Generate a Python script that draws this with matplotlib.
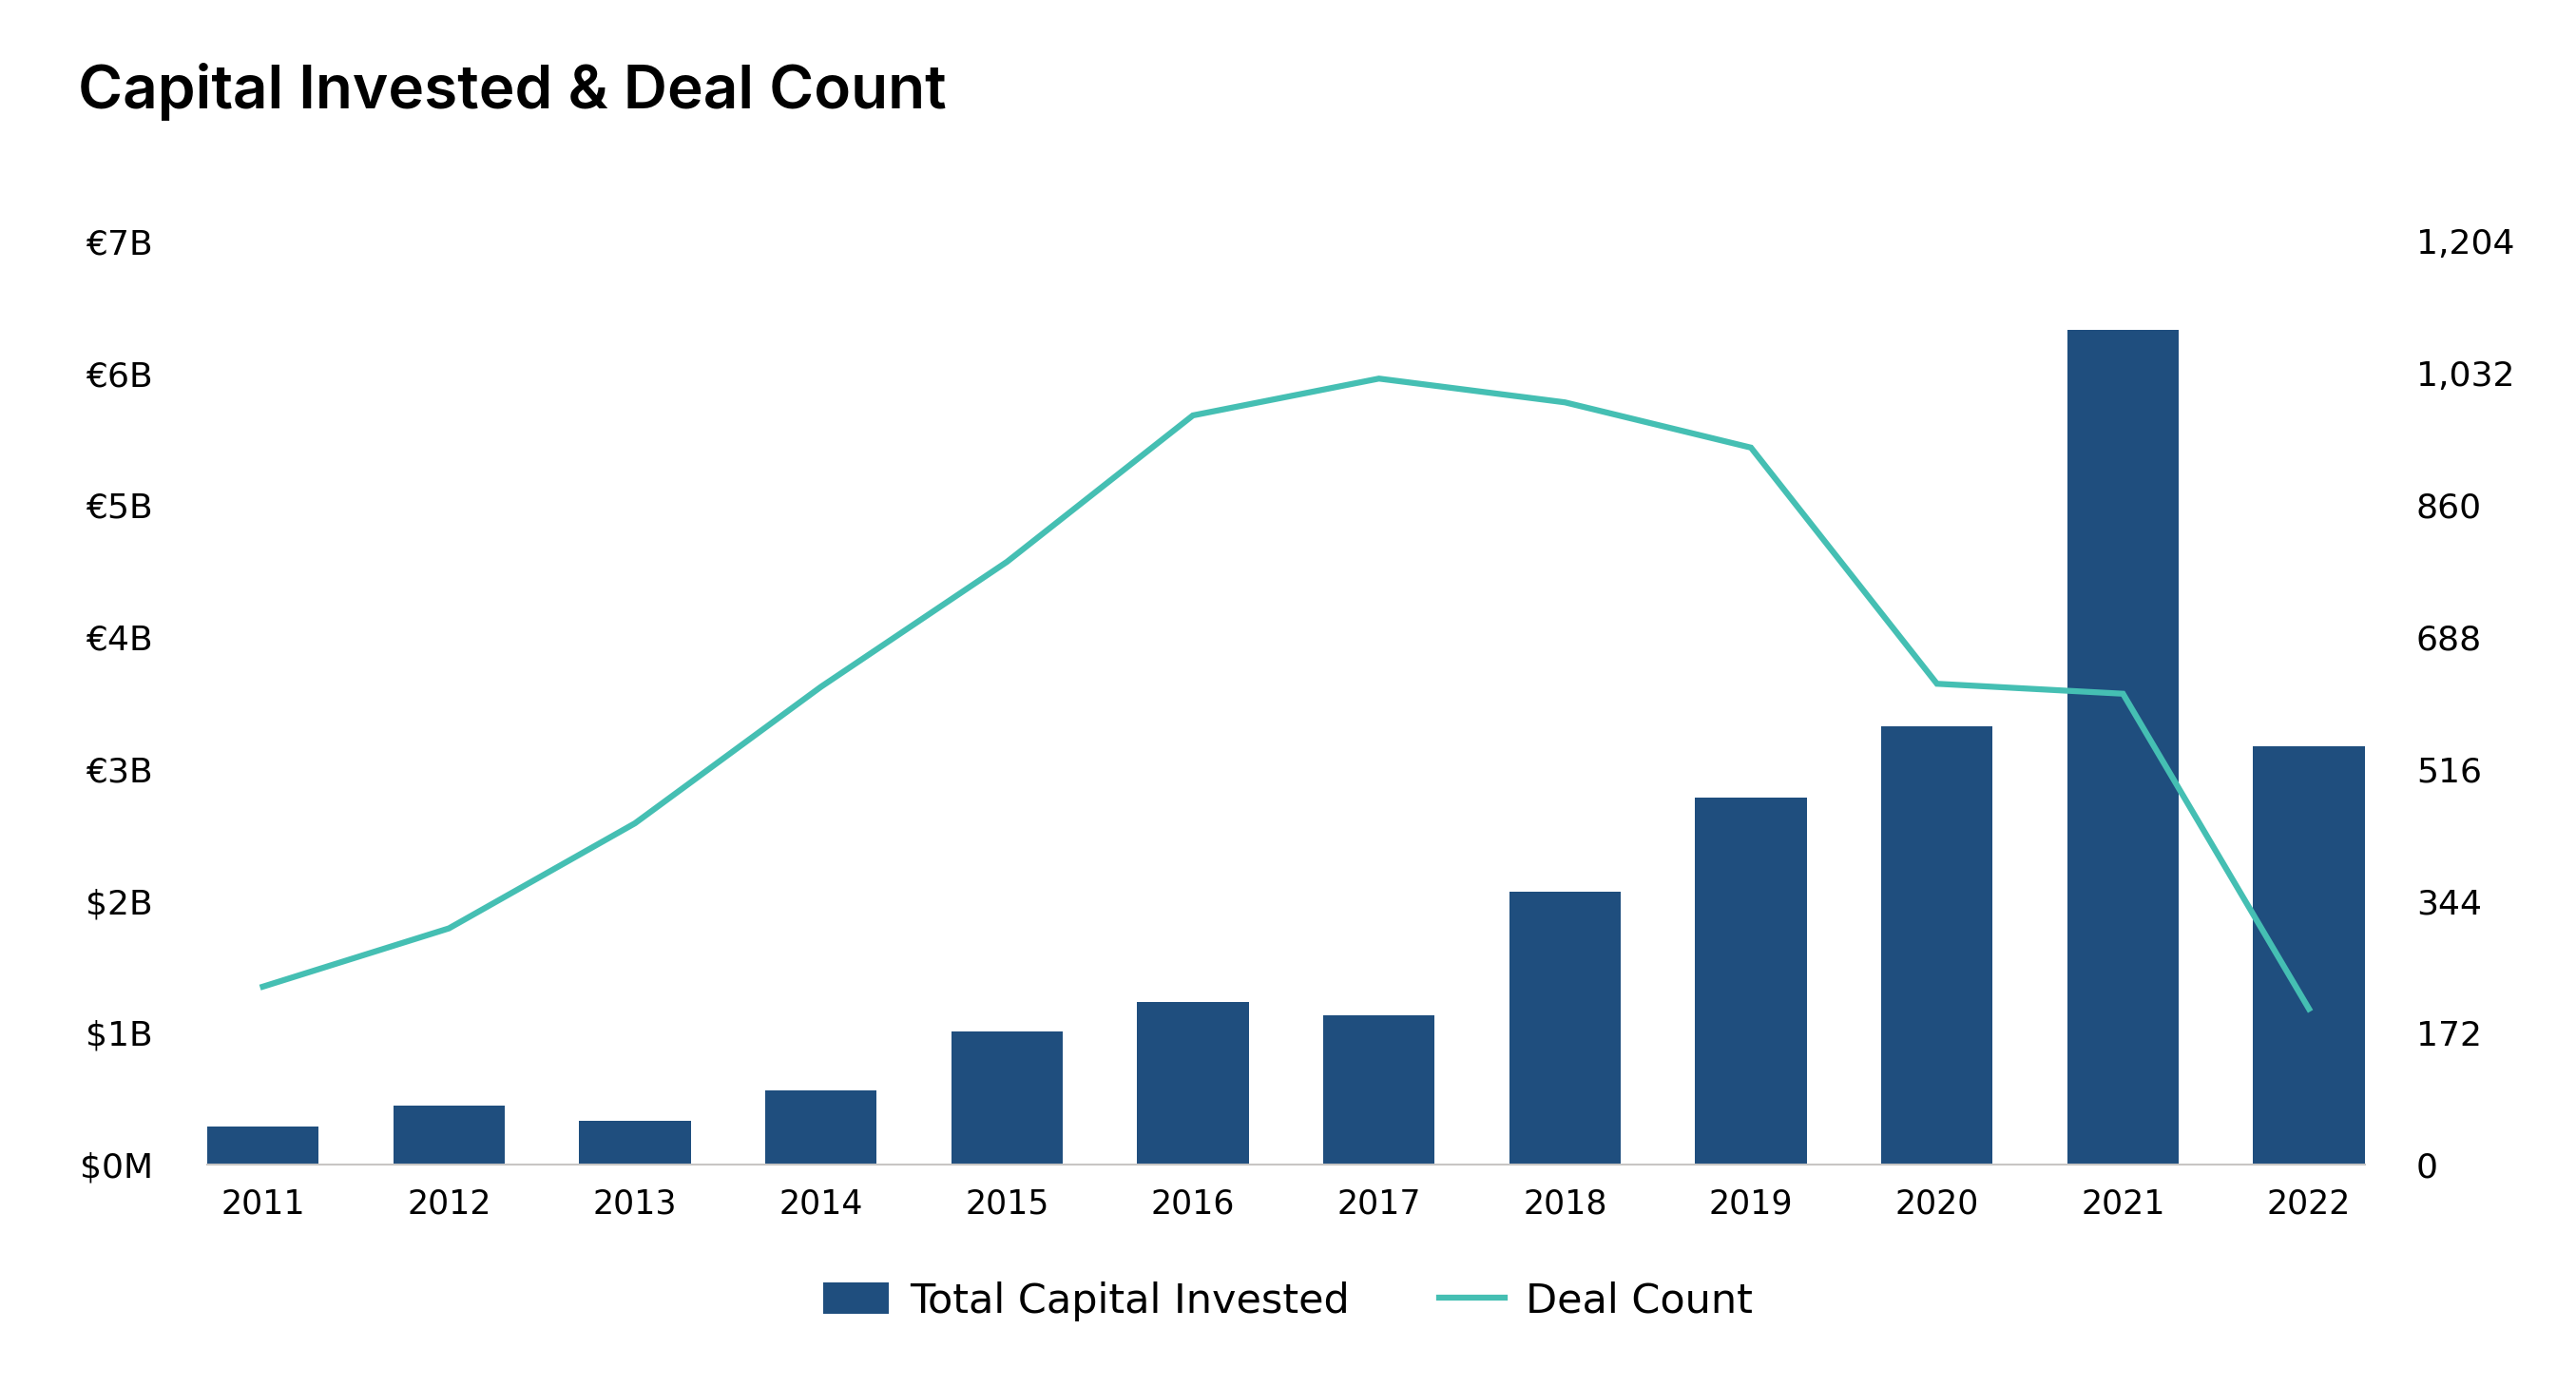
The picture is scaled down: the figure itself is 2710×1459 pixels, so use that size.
import matplotlib
matplotlib.use("Agg")
import matplotlib.pyplot as plt
import numpy as np

plt.rcParams['font.family'] = ['DejaVu Sans']

years = ['2011', '2012', '2013', '2014', '2015', '2016',
         '2017', '2018', '2019', '2020', '2021', '2022']
capital_b = [0.29, 0.45, 0.33, 0.56, 1.01, 1.23, 1.13, 2.07, 2.78, 3.32, 6.33, 3.17]
deal_count = [232, 308, 445, 623, 786, 977, 1025, 994, 935, 627, 614, 203]

left_ticks = [0, 1, 2, 3, 4, 5, 6, 7]
left_labels = ['$0M', '$1B', '$2B', '€3B', '€4B', '€5B', '€6B', '€7B']
right_ticks = [0, 172, 344, 516, 688, 860, 1032, 1204]
right_labels = ['0', '172', '344', '516', '688', '860', '1,032', '1,204']

bar_c = '#1F4E7E'
line_c = '#45BFB3'

fig = plt.figure(figsize=(27.1, 14.59), dpi=100)
ax = fig.add_axes([0.0804, 0.1604, 0.8376, 0.6656])
x = np.arange(len(years))
bars = ax.bar(x, capital_b, width=0.6, color=bar_c, label='Total Capital Invested', zorder=2)
ax.set_xlim(-0.3, len(years) - 0.7)
ax.set_ylim(0, 7)
ax.set_yticks(left_ticks)
ax.set_yticklabels(left_labels)
ax.set_xticks(x)
ax.set_xticklabels(years)
ax.tick_params(axis='both', length=0, labelsize=25)
ax.tick_params(axis='y', labelsize=26, pad=41)
ax.tick_params(axis='x', pad=18)
for s in ['top', 'right', 'left']:
    ax.spines[s].set_visible(False)
ax.spines['bottom'].set_color('#C8C6C4')
ax.spines['bottom'].set_linewidth(1.5)

ax2 = ax.twinx()
line, = ax2.plot(x, deal_count, color=line_c, lw=4.5, label='Deal Count', solid_joinstyle='miter')
ax2.set_ylim(0, 1204)
ax2.set_yticks(right_ticks)
ax2.set_yticklabels(right_labels)
ax2.tick_params(axis='y', length=0, labelsize=26, pad=39)
for s in ['top', 'right', 'left', 'bottom']:
    ax2.spines[s].set_visible(False)

fig.text(0.0303, 0.922, 'Capital Invested & Deal Count', fontsize=46,
         fontweight='semibold', family=['Inter', 'DejaVu Sans'],
         ha='left', va='baseline')

fig.legend([bars, line], ['Total Capital Invested', 'Deal Count'],
           loc='center', bbox_to_anchor=(0.5, 0.062), ncol=2, frameon=False,
           fontsize=31, handlelength=1.6, handleheight=0.8,
           handletextpad=0.5, columnspacing=2.2)

plt.savefig('out.png', dpi=100)
